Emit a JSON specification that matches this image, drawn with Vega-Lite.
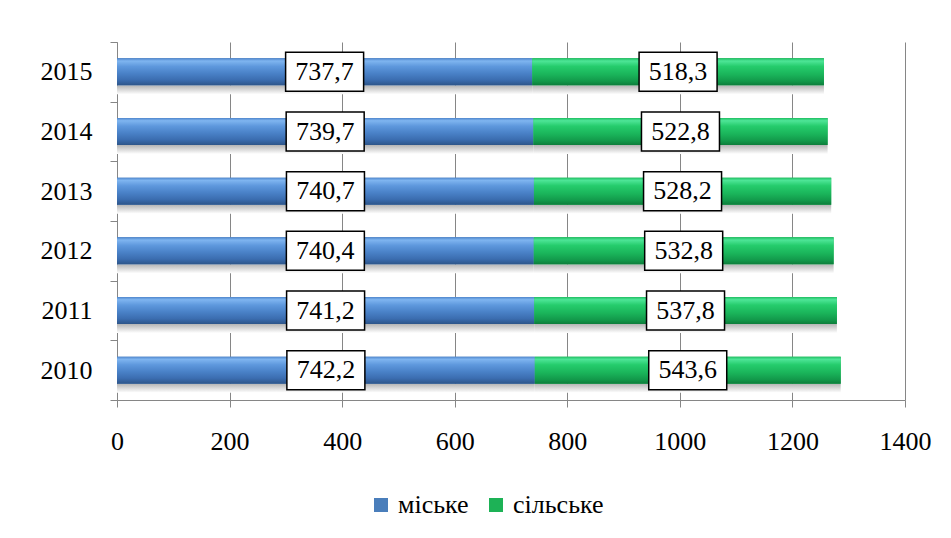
{
  "$schema": "https://vega.github.io/schema/vega-lite/v6.json",
  "width": 788,
  "height": 358,
  "autosize": {"type": "none"},
  "padding": {"left": 117, "top": 42, "right": 46, "bottom": 138},
  "background": "white",
  "config": {
    "view": {"stroke": null},
    "font": "'Liberation Serif', 'Times New Roman', 'DejaVu Serif', serif",
    "locale": {
      "number": {"decimal": ",", "thousands": " ", "grouping": [3], "currency": ["", ""]}
    }
  },
  "data": {
    "values": [
      {"year": "2015", "series": "міське", "value": 737.7},
      {"year": "2015", "series": "сільське", "value": 518.3},
      {"year": "2014", "series": "міське", "value": 739.7},
      {"year": "2014", "series": "сільське", "value": 522.8},
      {"year": "2013", "series": "міське", "value": 740.7},
      {"year": "2013", "series": "сільське", "value": 528.2},
      {"year": "2012", "series": "міське", "value": 740.4},
      {"year": "2012", "series": "сільське", "value": 532.8},
      {"year": "2011", "series": "міське", "value": 741.2},
      {"year": "2011", "series": "сільське", "value": 537.8},
      {"year": "2010", "series": "міське", "value": 742.2},
      {"year": "2010", "series": "сільське", "value": 543.6}
    ]
  },
  "transform": [
    {"stack": "value", "groupby": ["year"], "sort": [{"field": "series", "order": "ascending"}], "as": ["x0", "x1"]},
    {"calculate": "(datum.x0 + datum.x1) / 2", "as": "mid"}
  ],
  "encoding": {
    "y": {
      "field": "year",
      "type": "ordinal",
      "sort": "descending",
      "scale": {"paddingInner": 0, "paddingOuter": 0},
      "axis": {
        "title": null,
        "grid": false,
        "domainColor": "#868686",
        "tickColor": "#868686",
        "tickSize": 7,
        "tickBand": "extent",
        "labelPadding": 18,
        "labelFontSize": 26,
        "labelFont": "'Liberation Serif', 'Times New Roman', 'DejaVu Serif', serif",
        "labelColor": "black"
      }
    }
  },
  "layer": [
    {
      "mark": {
        "type": "bar",
        "height": 9,
        "yOffset": 18,
        "fill": {
          "gradient": "linear", "x1": 0, "y1": 0, "x2": 0, "y2": 1,
          "stops": [{"offset": 0, "color": "#b4b4b4"}, {"offset": 1, "color": "#ffffff"}]
        }
      },
      "encoding": {
        "x": {
          "field": "x0",
          "type": "quantitative",
          "scale": {"domain": [0, 1400], "nice": false},
          "axis": {
            "title": null,
            "values": [0, 200, 400, 600, 800, 1000, 1200, 1400],
            "format": "d",
            "grid": true,
            "gridColor": "#868686",
            "gridWidth": 1,
            "domainColor": "#868686",
            "tickColor": "#868686",
            "tickSize": 7,
            "labelPadding": 21,
            "labelFontSize": 26,
            "labelFont": "'Liberation Serif', 'Times New Roman', 'DejaVu Serif', serif",
            "labelColor": "black",
            "labelFlush": false
          }
        },
        "x2": {"field": "x1"}
      }
    },
    {
      "mark": {"type": "bar", "height": 27},
      "encoding": {
        "x": {"field": "x0", "type": "quantitative"},
        "x2": {"field": "x1"},
        "color": {
          "field": "series",
          "type": "nominal",
          "scale": {"domain": ["міське", "сільське"], "range": ["#4A7EBB", "#1DB256"]},
          "legend": {
            "title": null,
            "orient": "none",
            "legendX": 251,
            "legendY": 450,
            "direction": "horizontal",
            "symbolType": "square",
            "symbolSize": 196,
            "symbolStrokeWidth": 0,
            "labelFontSize": 26,
            "labelFont": "'Liberation Serif', 'Times New Roman', 'DejaVu Serif', serif",
            "labelColor": "black",
            "labelOffset": 4,
            "columnPadding": 14
          }
        }
      }
    },
    {
      "transform": [{"filter": "datum.series === 'міське'"}],
      "mark": {
        "type": "bar",
        "height": 27,
        "fill": {
          "gradient": "linear", "x1": 0, "y1": 0, "x2": 0, "y2": 1,
          "stops": [
            {"offset": 0, "color": "#4f86cc"},
            {"offset": 0.1, "color": "#7fb5f0"},
            {"offset": 0.3, "color": "#5e98dd"},
            {"offset": 0.55, "color": "#4a82c8"},
            {"offset": 0.8, "color": "#3b6db0"},
            {"offset": 1, "color": "#2d5589"}
          ]
        }
      },
      "encoding": {
        "x": {"field": "x0", "type": "quantitative"},
        "x2": {"field": "x1"}
      }
    },
    {
      "transform": [{"filter": "datum.series === 'сільське'"}],
      "mark": {
        "type": "bar",
        "height": 27,
        "fill": {
          "gradient": "linear", "x1": 0, "y1": 0, "x2": 0, "y2": 1,
          "stops": [
            {"offset": 0, "color": "#1fbe62"},
            {"offset": 0.1, "color": "#4ee597"},
            {"offset": 0.3, "color": "#25cc6c"},
            {"offset": 0.6, "color": "#1ab45a"},
            {"offset": 0.85, "color": "#12984a"},
            {"offset": 1, "color": "#0d7d3b"}
          ]
        }
      },
      "encoding": {
        "x": {"field": "x0", "type": "quantitative"},
        "x2": {"field": "x1"}
      }
    },
    {
      "mark": {
        "type": "bar",
        "height": 39,
        "fill": "white",
        "stroke": "black",
        "strokeWidth": 1.5,
        "xOffset": -39,
        "x2Offset": 39
      },
      "encoding": {
        "x": {"field": "mid", "type": "quantitative"},
        "x2": {"field": "mid"}
      }
    },
    {
      "mark": {
        "type": "text",
        "font": "'Liberation Serif', 'Times New Roman', 'DejaVu Serif', serif",
        "fontSize": 26,
        "color": "black",
        "baseline": "middle",
        "align": "center"
      },
      "encoding": {
        "x": {"field": "mid", "type": "quantitative"},
        "text": {"field": "value", "type": "quantitative", "format": ".1f"}
      }
    }
  ]
}
